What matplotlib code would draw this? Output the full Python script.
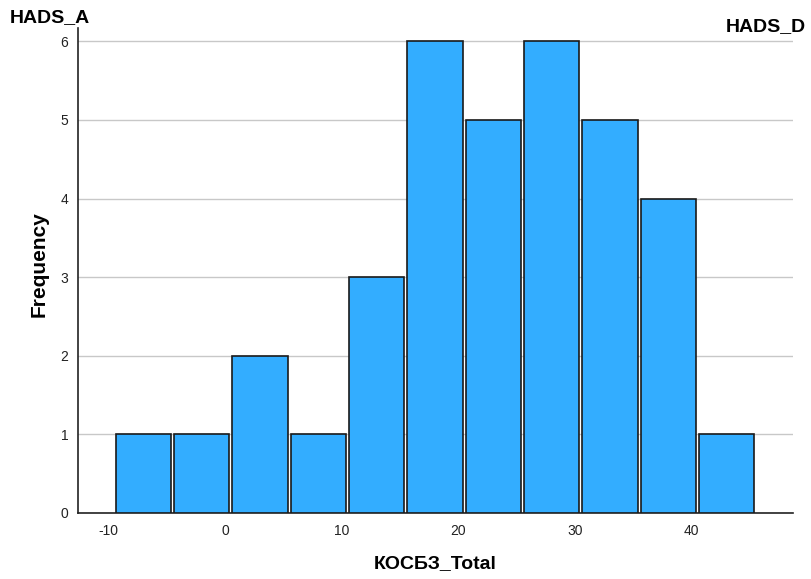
import matplotlib
matplotlib.use("Agg")
import matplotlib.pyplot as plt
import numpy as np

# Data
bin_left_edges = [-9.5, -4.5, 0.5, 5.5, 10.5, 15.5, 20.5, 25.5, 30.5, 35.5, 40.5]
frequencies = [1, 1, 2, 1, 3, 6, 5, 6, 5, 4, 1]
bin_width = 5.0
x_ticks = [-10, 0, 10, 20, 30, 40]
y_ticks = [0, 1, 2, 3, 4, 5, 6]
x_label = "КОСБЗ_Total"
y_label = "Frequency"
left_title = "HADS_A"
right_title = "HADS_D"

plt.rcParams['font.family'] = ['Liberation Sans', 'DejaVu Sans']
plt.rcParams['axes.unicode_minus'] = False

fig = plt.figure(figsize=(8.11, 5.79), dpi=100)
ax = fig.add_axes([0.0962, 0.114, 0.978 - 0.0962, 0.9516 - 0.114])

gap = 0.13
centers = np.array(bin_left_edges) + bin_width / 2
ax.bar(centers, frequencies, width=bin_width - 2 * gap, color='#33adff',
       edgecolor='#1a1a1a', linewidth=1.2, zorder=3)

ax.set_xlim(-12.6, 48.7)
ax.set_ylim(0, 6.17)
ax.set_xticks(x_ticks)
ax.set_yticks(y_ticks)
ax.yaxis.grid(True, color='#c8c8c8', linewidth=1.0, zorder=0)
ax.set_axisbelow(True)

for s in ['top', 'right']:
    ax.spines[s].set_visible(False)
for s in ['left', 'bottom']:
    ax.spines[s].set_color('#222222')
    ax.spines[s].set_linewidth(1.2)

ax.tick_params(axis='x', length=0, labelsize=10, colors='#222222', pad=8)
ax.tick_params(axis='y', length=0, labelsize=10, colors='#222222', pad=7)

ax.set_xlabel(x_label, fontsize=14, fontweight='bold', labelpad=12)
ax.set_ylabel(y_label, fontsize=15, fontweight='bold')
ax.yaxis.set_label_coords(-0.041, 0.513)

fig.text(10 / 811, 1 - 18 / 579, left_title, fontsize=14, fontweight='bold',
         ha='left', va='center')
fig.text(806 / 811, 1 - 27 / 579, right_title, fontsize=14, fontweight='bold',
         ha='right', va='center')

fig.savefig("out.png", dpi=100)
